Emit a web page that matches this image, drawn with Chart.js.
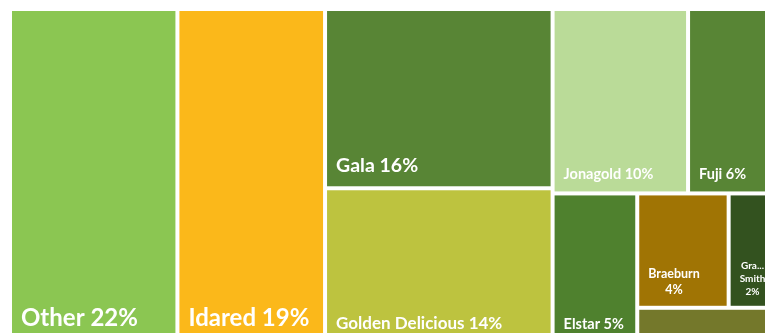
<!DOCTYPE html>
<html lang="en">
<head>
  <meta charset="UTF-8" />
  <title>Apple varieties treemap</title>
  <script src="https://cdn.jsdelivr.net/npm/chart.js"></script>
  <style>
    html, body { margin: 0; padding: 0; background: #fff; overflow: hidden; }
    #wrap { width: 780px; height: 350px; }
  </style>
</head>
<body>
  <div id="wrap"><canvas id="tree" width="780" height="350"></canvas></div>

  <script>
    // Apple varieties and their share of the crop
    const varieties = ['Other', 'Idared', 'Gala', 'Golden Delicious', 'Jonagold', 'Fuji',
                       'Elstar', 'Braeburn', 'Granny Smith', 'Pink Lady'];
    const shares = [22, 19.4, 16, 13.9, 9.8, 6.0, 5.0, 4.1, 1.9, 1.9];

    // colours and label sizes per cell
    const colors = ['#8bc652', '#fbb81a', '#588535', '#bdc33f', '#badb98', '#588535',
                    '#4f812e', '#a07404', '#33521f', '#74782b'];
    const fontSizes = [24, 24, 19.5, 17, 14.5, 14.5, 14.5, 12.5, 10, 10];

    // how the cells nest: columns, rows inside columns, and so on
    const groups = [[0], [1], [2, 3], [[4, 5], [6, [[7, 8], [9]]]]];

    const GAP = 4;
    const total = shares.reduce((a, b) => a + b, 0);

    function sumOf(node) {
      return Array.isArray(node) ? node.reduce((s, n) => s + sumOf(n), 0) : shares[node];
    }

    // slice the 0..100 square into rectangles, alternating direction per level
    function layout(node, x0, y0, x1, y1, horiz, out) {
      if (!Array.isArray(node)) {
        out[node] = { x0, y0, x1, y1 };
        return out;
      }
      const s = sumOf(node);
      let pos = horiz ? x0 : y0;
      node.forEach(child => {
        const span = (horiz ? x1 - x0 : y1 - y0) * sumOf(child) / s;
        if (horiz) layout(child, pos, y0, pos + span, y1, !horiz, out);
        else layout(child, x0, pos, x1, pos + span, !horiz, out);
        pos += span;
      });
      return out;
    }

    const cells = layout(groups, 0, 0, 100, 100, true, []);

    // long single words get cut with an ellipsis
    function fitWord(ctx, word, maxW) {
      if (ctx.measureText(word).width <= maxW + 9) return word;
      let n = word.length - 1;
      while (n > 1 && ctx.measureText(word.slice(0, n) + '...').width > maxW + 4) n--;
      return word.slice(0, n) + '...';
    }

    function wrapLabel(ctx, text, maxW) {
      if (ctx.measureText(text).width <= maxW) return [text];
      const lines = [];
      let cur = '';
      text.split(' ').forEach(w => {
        const test = cur ? cur + ' ' + w : w;
        if (cur && ctx.measureText(test).width > maxW) {
          lines.push(cur);
          cur = w;
        } else {
          cur = test;
        }
      });
      if (cur) lines.push(cur);
      return lines.map(l => fitWord(ctx, l, maxW));
    }

    const treemapCells = {
      id: 'treemapCells',
      afterDatasetsDraw(chart) {
        const { ctx, scales: { x, y } } = chart;
        ctx.save();
        cells.forEach((c, i) => {
          const left = x.getPixelForValue(c.x0);
          const right = x.getPixelForValue(c.x1) - GAP;
          const top = y.getPixelForValue(c.y0);
          const bottom = y.getPixelForValue(c.y1) - GAP;
          ctx.fillStyle = colors[i];
          ctx.fillRect(left, top, right - left, bottom - top);

          const h = bottom - top, w = right - left;
          if (h < 40) return; // too short for a label
          const fs = fontSizes[i];
          ctx.font = 'bold ' + fs + 'px Lato, "Open Sans", sans-serif';
          const pct = Math.round(shares[i] / total * 100);
          const lines = wrapLabel(ctx, varieties[i] + ' ' + pct + '%', w - 18);
          const blockW = Math.max(...lines.map(l => ctx.measureText(l).width));
          const lh = fs * 1.3;
          const lastBase = bottom - (7 + 0.38 * fs);
          ctx.fillStyle = '#ffffff';
          ctx.textAlign = 'center';
          ctx.textBaseline = 'alphabetic';
          lines.forEach((l, k) => {
            ctx.fillText(l, left + 9 + blockW / 2, lastBase - (lines.length - 1 - k) * lh);
          });
        });
        ctx.restore();
      }
    };

    new Chart(document.getElementById('tree'), {
      type: 'scatter',
      data: {
        labels: varieties,
        datasets: [{ data: [], pointRadius: 0 }]
      },
      options: {
        responsive: false,
        animation: false,
        layout: { padding: { left: 12, top: 11, right: 7, bottom: 4 } },
        scales: {
          x: { type: 'linear', min: 0, max: 100, display: false },
          y: { type: 'linear', min: 0, max: 100, reverse: true, display: false }
        },
        plugins: { legend: { display: false }, tooltip: { enabled: false } }
      },
      plugins: [treemapCells]
    });
  </script>
</body>
</html>
